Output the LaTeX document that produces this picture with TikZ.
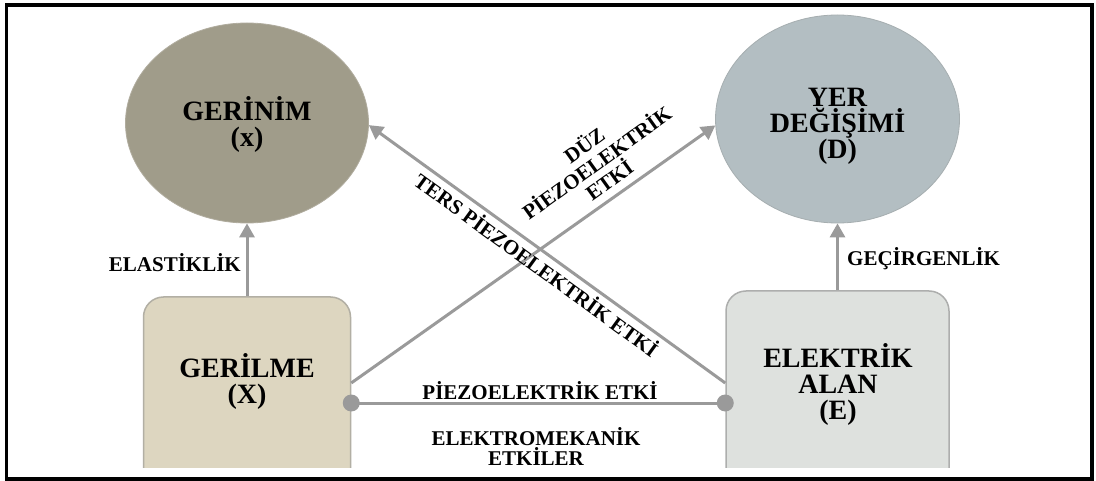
\documentclass[tikz,border=0pt]{standalone}
\usepackage{fontspec}
\setmainfont{Liberation Serif}
\usetikzlibrary{shapes.geometric,arrows.meta}
\definecolor{strainc}{HTML}{A09C8A}
\definecolor{strainb}{HTML}{B0AC9E}
\definecolor{dispc}{HTML}{B3BEC2}
\definecolor{dispb}{HTML}{A6AEB0}
\definecolor{stressc}{HTML}{DDD6C0}
\definecolor{stressb}{HTML}{B2AFA4}
\definecolor{fieldc}{HTML}{DEE1DE}
\definecolor{fieldb}{HTML}{ADAEAD}
\definecolor{arrowc}{HTML}{9A9A9A}
\newcommand\mainfs{\fontsize{28}{26}\selectfont\bfseries}
\newcommand\labfs{\fontsize{21}{20}\selectfont\bfseries}
\newcommand\duzfs{\fontsize{21}{21.5}\selectfont\bfseries}
\begin{document}
\begin{tikzpicture}[x=1pt,y=-1pt,
  conn/.style={draw=arrowc, line width=3pt},
  arr/.style={conn, -{Triangle[length=14pt,width=15pt]}},
  bubble/.style={ellipse, inner sep=0pt, line width=0.8pt},
  maintext/.style={inner sep=0pt, align=center, font=\mainfs},
  box/.style={rectangle, rounded corners=20pt, line width=1.5pt, inner sep=0pt},
  lab/.style={font=\labfs, align=center, inner sep=0pt},
  dotc/.style={circle, fill=arrowc, minimum size=17pt, inner sep=0pt}]
\useasboundingbox (0,0) rectangle (1096,481);
\fill[white] (0,0) rectangle (1096,481);
% circles
\node[bubble, fill=strainc, draw=strainb, minimum width=243pt, minimum height=200pt] (gerinim) at (247,123) {};
\node[bubble, fill=dispc, draw=dispb, minimum width=244pt, minimum height=208pt] (yer) at (837.5,119) {};
\node[maintext] (gerinimt) at (247,124) {GERİNİM\\(x)};
\node[maintext] (yert) at (837.5,126) {YER\\DEĞİŞİMİ\\(D)};
% boxes (cut at the bottom)
\begin{scope}
\clip (0,0) rectangle (1096,467);
\node[box, fill=stressc, draw=stressb, minimum width=207pt, minimum height=212pt] (gerilme) at (247,403) {};
\node[box, fill=fieldc, draw=fieldb, minimum width=223pt, minimum height=224pt] (elektrik) at (837.5,403) {};
\end{scope}
\node[maintext] (gerilmet) at (247,381) {GERİLME\\(X)};
\node[maintext] (elektrikt) at (838,384) {ELEKTRİK\\ALAN\\(E)};
% connectors
\draw[arr] (gerilme.north) -- (gerinim.south);
\draw[arr] (elektrik.north) -- (yer.south);
\draw[arr] ([yshift=20pt]gerilme.east) -- (yer.183);
\draw[arr] ([yshift=20pt]elektrik.west) -- (gerinim.-1);
\draw[conn] (gerilme.east) -- (elektrik.west);
\node[dotc] (d1) at (gerilme.east) {};
\node[dotc] (d2) at (elektrik.west) {};
% labels
\node[lab, anchor=east] (elast) at (241,263) {ELASTİKLİK};
\node[lab, anchor=west] (gecir) at (847,259) {GEÇİRGENLİK};
\node[lab] (piezo) at (540,391) {PİEZOELEKTRİK ETKİ};
\node[lab] (elmek) at (536,447) {ELEKTROMEKANİK\\ETKİLER};
\node[lab, font=\duzfs, rotate=35.7] (duz) at (596,162) {DÜZ\\PİEZOELEKTRİK\\ETKİ};
\node[lab, rotate=-36] (ters) at (537,264) {TERS PİEZOELEKTRİK ETKİ};
% frame
\draw[line width=3.5pt] (6.5,5) rectangle (1092,479);
\end{tikzpicture}
\end{document}
